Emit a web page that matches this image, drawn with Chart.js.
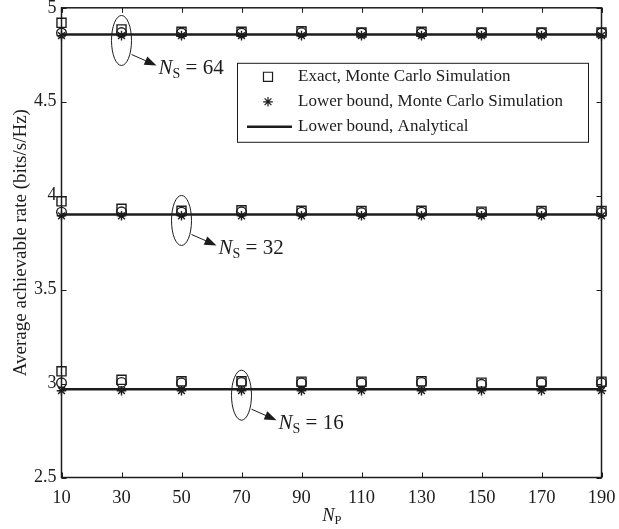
<!DOCTYPE html>
<html>
<head>
<meta charset="utf-8">
<script src="https://cdn.jsdelivr.net/npm/chart.js@4.4.1/dist/chart.umd.min.js"></script>
<style>
  html, body { margin: 0; padding: 0; background: #fff; }
</style>
</head>
<body>
<canvas id="rateChart" width="619" height="529"></canvas>
<script>
// --- Data ---
const nP = [10, 30, 50, 70, 90, 110, 130, 150, 170, 190];
const yTicks = [2.5, 3, 3.5, 4, 4.5, 5];

// Exact, Monte Carlo (squares)
const exact64 = [4.92, 4.885, 4.872, 4.872, 4.875, 4.868, 4.872, 4.868, 4.868, 4.868];
const exact32 = [3.97, 3.93, 3.92, 3.922, 3.92, 3.918, 3.92, 3.915, 3.918, 3.918];
const exact16 = [3.065, 3.02, 3.012, 3.012, 3.01, 3.01, 3.012, 3.005, 3.01, 3.01];

// circles (no legend entry in the original)
const circ64 = [4.866, 4.868, 4.866, 4.866, 4.868, 4.866, 4.866, 4.866, 4.866, 4.866];
const circ32 = [3.912, 3.914, 3.912, 3.914, 3.912, 3.91, 3.912, 3.908, 3.91, 3.91];
const circ16 = [3.004, 3.006, 3.004, 3.006, 3.004, 3.004, 3.006, 2.996, 3.004, 3.004];

// Lower bound, Monte Carlo (asterisks)
const lb64 = [4.852, 4.852, 4.852, 4.852, 4.852, 4.852, 4.852, 4.852, 4.852, 4.852];
const lb32 = [3.893, 3.893, 3.893, 3.893, 3.893, 3.893, 3.893, 3.893, 3.893, 3.893];
const lb16 = [2.962, 2.962, 2.962, 2.962, 2.962, 2.962, 2.962, 2.962, 2.962, 2.962];

// Lower bound, Analytical (lines)
const ana64 = [4.858, 4.858, 4.858, 4.858, 4.858, 4.858, 4.858, 4.858, 4.858, 4.858];
const ana32 = [3.900, 3.900, 3.900, 3.900, 3.900, 3.900, 3.900, 3.900, 3.900, 3.900];
const ana16 = [2.970, 2.970, 2.970, 2.970, 2.970, 2.970, 2.970, 2.970, 2.970, 2.970];

// N_S annotations: which N_P they circle, and on which curve
const annotNP = [30, 50, 70];
const annotLevel = [ana64[1], ana32[2], ana16[3]];
const annotLabel = ['64', '32', '16'];

const legendLabels = ['Exact, Monte Carlo Simulation', 'Lower bound, Monte Carlo Simulation', 'Lower bound, Analytical'];

const INK = '#1c1c1c';
const SERIF = '"Liberation Serif", "Times New Roman", serif';

const pts = (ys) => nP.map((x, i) => ({ x, y: ys[i] }));

function lineSet(ys) {
  return { data: pts(ys), borderColor: INK, borderWidth: 2.5, pointRadius: 0, showLine: true, clip: false, order: 4 };
}
function markSet(ys, style, r) {
  return {
    data: pts(ys), showLine: false, clip: false,
    pointStyle: style, pointRadius: r, pointHoverRadius: r,
    pointBorderColor: INK, pointBackgroundColor: 'rgba(0,0,0,0)', pointBorderWidth: 1.4, order: 1,
  };
}

const datasets = [
  lineSet(ana64), lineSet(ana32), lineSet(ana16),
  markSet(circ64, 'circle', 4.8), markSet(circ32, 'circle', 4.8), markSet(circ16, 'circle', 4.8),
  markSet(exact64, 'rect', 6.4), markSet(exact32, 'rect', 6.4), markSet(exact16, 'rect', 6.4),
  markSet(lb64, 'star', 4.8), markSet(lb32, 'star', 4.8), markSet(lb16, 'star', 4.8),
];

// --- Decorations: box, inward ticks, N_S callouts, legend, x title ---
const paperDecor = {
  id: 'paperDecor',
  afterDraw(chart) {
    const { ctx, chartArea: a, scales: { x, y } } = chart;
    ctx.save();
    ctx.strokeStyle = INK;
    ctx.fillStyle = INK;

    // frame
    ctx.lineWidth = 1.5;
    ctx.strokeRect(a.left, a.top, a.right - a.left, a.bottom - a.top);

    // inward ticks
    ctx.lineWidth = 1;
    ctx.beginPath();
    x.ticks.forEach(t => {
      const px = Math.round(x.getPixelForValue(t.value)) + 0.5;
      ctx.moveTo(px, a.bottom); ctx.lineTo(px, a.bottom - 5);
      ctx.moveTo(px, a.top); ctx.lineTo(px, a.top + 5);
    });
    y.ticks.forEach(t => {
      const py = Math.round(y.getPixelForValue(t.value)) + 0.5;
      ctx.moveTo(a.left, py); ctx.lineTo(a.left + 5, py);
      ctx.moveTo(a.right, py); ctx.lineTo(a.right - 5, py);
    });
    ctx.stroke();

    // N_S callouts
    annotNP.forEach((np, i) => {
      const cx = x.getPixelForValue(np);
      const cy = y.getPixelForValue(annotLevel[i]) + 6;
      ctx.lineWidth = 1;
      ctx.beginPath();
      ctx.ellipse(cx, cy, 10, 25, 0, 0, Math.PI * 2);
      ctx.stroke();

      const x0 = cx + 10, y0 = cy + 14, x1 = cx + 35, y1 = cy + 25;
      ctx.beginPath(); ctx.moveTo(x0, y0); ctx.lineTo(x1 - 8, y1 - 3.5); ctx.stroke();
      const ang = Math.atan2(y1 - y0, x1 - x0);
      ctx.beginPath();
      ctx.moveTo(x1, y1);
      ctx.lineTo(x1 - 12 * Math.cos(ang) + 4.5 * Math.sin(ang), y1 - 12 * Math.sin(ang) - 4.5 * Math.cos(ang));
      ctx.lineTo(x1 - 12 * Math.cos(ang) - 4.5 * Math.sin(ang), y1 - 12 * Math.sin(ang) + 4.5 * Math.cos(ang));
      ctx.closePath(); ctx.fill();

      let tx = x1 + 2;
      const ty = cy + 28;
      ctx.textBaseline = 'middle'; ctx.textAlign = 'left';
      ctx.font = 'italic 21px ' + SERIF;
      ctx.fillText('N', tx, ty); tx += ctx.measureText('N').width;
      ctx.font = '14px ' + SERIF;
      ctx.fillText('S', tx, ty + 6); tx += ctx.measureText('S').width;
      ctx.font = '21px ' + SERIF;
      ctx.fillText(' = ' + annotLabel[i], tx, ty);
    });

    // legend
    const lx = a.left + 175.5, ly = a.top + 55, lw = 351, lh = 79;
    ctx.fillStyle = '#fff';
    ctx.fillRect(lx, ly, lw, lh);
    ctx.lineWidth = 1;
    ctx.strokeRect(lx + 0.5, ly + 0.5, lw, lh);
    const rows = [ly + 14, ly + 39, ly + 64];
    const sx = lx + 31;
    ctx.fillStyle = 'rgba(0,0,0,0)';
    ctx.lineWidth = 1.2;
    Chart.helpers.drawPoint(ctx, { pointStyle: 'rect', radius: 6.4, rotation: 0, borderWidth: 1.2 }, sx, rows[0]);
    Chart.helpers.drawPoint(ctx, { pointStyle: 'star', radius: 4.8, rotation: 0, borderWidth: 1.2 }, sx, rows[1]);
    ctx.fillStyle = INK;
    ctx.lineWidth = 2.5;
    ctx.beginPath(); ctx.moveTo(lx + 10, rows[2]); ctx.lineTo(lx + 55, rows[2]); ctx.stroke();
    ctx.font = '17px ' + SERIF;
    ctx.textBaseline = 'middle'; ctx.textAlign = 'left';
    legendLabels.forEach((s, i) => ctx.fillText(s, lx + 61, rows[i]));

    // x title N_P
    const mx = (a.left + a.right) / 2 + 3;
    ctx.font = 'italic 18.5px ' + SERIF;
    const nw = ctx.measureText('N').width;
    ctx.fillText('N', mx - nw, 516);
    ctx.font = '12.5px ' + SERIF;
    ctx.fillText('P', mx, 521);

    ctx.restore();
  }
};

new Chart(document.getElementById('rateChart'), {
  type: 'line',
  data: { datasets },
  plugins: [paperDecor],
  options: {
    responsive: false,
    animation: false,
    devicePixelRatio: 1,
    layout: { padding: { left: 0, right: 17.5, top: 7.5, bottom: 0 } },
    plugins: { legend: { display: false }, tooltip: { enabled: false } },
    scales: {
      x: {
        type: 'linear', min: 10, max: 190,
        afterBuildTicks: (s) => { s.ticks = nP.map(v => ({ value: v })); },
        afterFit: (s) => { s.height = 51.5; s.paddingLeft = 0; s.paddingRight = 0; },
        grid: { display: false, drawTicks: false },
        border: { display: false },
        ticks: { color: INK, padding: 10, font: { family: SERIF, size: 18.5 }, maxRotation: 0, autoSkip: false },
      },
      y: {
        min: 2.5, max: 5,
        afterBuildTicks: (s) => { s.ticks = yTicks.map(v => ({ value: v })); },
        afterFit: (s) => { s.width = 61.5; s.paddingTop = 0; s.paddingBottom = 0; },
        grid: { display: false, drawTicks: false },
        border: { display: false },
        ticks: { color: INK, padding: 5, font: { family: SERIF, size: 18 }, callback: (v) => String(v) },
        title: {
          display: true, text: 'Average achievable rate (bits/s/Hz)',
          color: INK, font: { family: SERIF, size: 19 }, padding: { top: 10, bottom: 0 },
        },
      },
    },
  },
});
</script>
</body>
</html>
